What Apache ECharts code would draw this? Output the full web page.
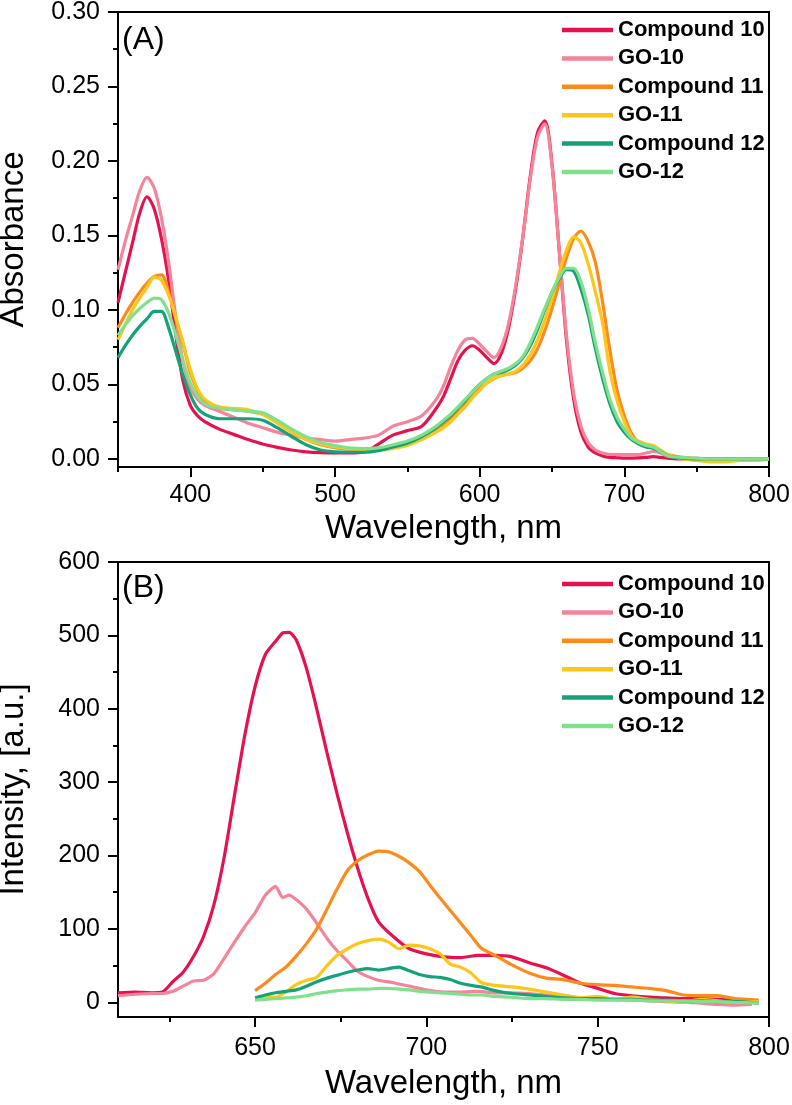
<!DOCTYPE html>
<html><head><meta charset="utf-8">
<script src="https://cdn.jsdelivr.net/npm/echarts@6/dist/echarts.min.js"></script>
<style>html,body{margin:0;padding:0;background:#fff}#c{width:792px;height:1105px}</style>
</head><body><div id="c"></div>
<script>
const seriesNames = ['Compound 10','GO-10','Compound 11','GO-11','Compound 12','GO-12'];
const seriesColors = ['#E5124F','#F4849A','#FF8A1C','#FFC61A','#14A27A','#80E08C'];

// Panel A: absorbance
const wlA = [350,355,360,365,370,375,380,385,390,395,
  400,405,410,420,430,440,450,460,470,480,
  490,500,510,520,530,540,550,560,570,575,
  580,585,590,595,600,605,610,615,620,625,
  630,635,640,645,650,655,660,665,670,675,
  680,685,690,695,700,705,710,715,720,725,
  730,740,750,760,770,780,790,800];
const c10A = [0.105,0.125,0.145,0.165,0.176,0.168,0.148,0.120,0.083,0.052,
  0.036,0.029,0.025,0.020,0.0165,0.013,0.010,0.0078,0.006,0.0048,
  0.0042,0.004,0.004,0.0045,0.010,0.016,0.019,0.022,0.034,0.042,
  0.054,0.066,0.073,0.076,0.073,0.068,0.064,0.071,0.088,0.115,
  0.150,0.190,0.219,0.227,0.198,0.140,0.080,0.040,0.018,0.008,
  0.004,0.002,0.001,0.0008,0.0006,0.0006,0.0007,0.001,0.0015,0.001,
  0.0005,0,0,0,0,0,0,0];
const go10A = [0.127,0.146,0.163,0.180,0.189,0.182,0.162,0.132,0.095,0.065,
  0.048,0.040,0.036,0.032,0.028,0.024,0.021,0.018,0.016,0.014,
  0.013,0.012,0.013,0.014,0.016,0.022,0.025,0.029,0.040,0.049,
  0.062,0.073,0.080,0.081,0.077,0.072,0.068,0.075,0.091,0.117,
  0.150,0.188,0.216,0.225,0.197,0.140,0.083,0.044,0.022,0.011,
  0.006,0.004,0.003,0.003,0.003,0.003,0.003,0.004,0.005,0.004,
  0.002,0.001,0.0005,0,0,0,0,0];
const c11A = [0.088,0.097,0.105,0.112,0.118,0.1225,0.1235,0.112,0.094,0.077,
  0.058,0.046,0.039,0.034,0.033,0.032,0.030,0.025,0.018,0.013,
  0.0095,0.0075,0.0065,0.006,0.0065,0.008,0.0105,0.015,0.020,0.023,
  0.027,0.031,0.036,0.042,0.047,0.051,0.054,0.056,0.057,0.058,
  0.061,0.066,0.074,0.086,0.101,0.118,0.135,0.148,0.153,0.146,
  0.132,0.105,0.073,0.046,0.029,0.017,0.011,0.009,0.008,0.005,
  0.003,0.001,0,-0.001,-0.001,-0.0005,0,0];
const go11A = [0.080,0.090,0.100,0.108,0.115,0.122,0.120,0.110,0.095,0.078,
  0.060,0.047,0.040,0.035,0.034,0.033,0.030,0.024,0.018,0.013,
  0.010,0.008,0.007,0.006,0.006,0.007,0.009,0.013,0.018,0.021,
  0.025,0.030,0.035,0.041,0.046,0.051,0.054,0.056,0.057,0.059,
  0.063,0.070,0.080,0.093,0.108,0.125,0.140,0.149,0.145,0.131,
  0.112,0.091,0.059,0.039,0.025,0.015,0.012,0.010,0.009,0.006,
  0.003,0,-0.001,-0.002,-0.002,-0.001,-0.001,0];
const c12A = [0.068,0.076,0.083,0.089,0.094,0.099,0.099,0.088,0.072,0.056,
  0.043,0.034,0.030,0.027,0.027,0.027,0.026,0.021,0.015,0.0095,
  0.006,0.0048,0.0045,0.0045,0.0055,0.008,0.0105,0.015,0.021,0.025,
  0.029,0.034,0.039,0.045,0.050,0.054,0.057,0.058,0.060,0.063,
  0.068,0.076,0.087,0.100,0.112,0.121,0.127,0.126,0.114,0.097,
  0.074,0.054,0.037,0.025,0.018,0.013,0.010,0.008,0.007,0.005,
  0.002,0.0005,0,0,0,0,0,0];
const go12A = [0.083,0.090,0.096,0.101,0.105,0.108,0.107,0.098,0.083,0.066,
  0.051,0.042,0.037,0.034,0.033,0.032,0.031,0.026,0.020,0.015,
  0.011,0.009,0.0075,0.007,0.0075,0.0095,0.012,0.016,0.022,0.026,
  0.030,0.035,0.040,0.045,0.050,0.054,0.057,0.059,0.061,0.064,
  0.069,0.078,0.089,0.101,0.112,0.122,0.128,0.128,0.119,0.101,
  0.078,0.058,0.040,0.028,0.020,0.014,0.011,0.009,0.008,0.005,
  0.002,0.001,0.0005,0,0,0,0,0];

// Panel B: emission intensity
const wlB1 = [610,615,620,623,626,629,632,635,638,641,
  644,647,650,653,656,658,660,662,665,668,
  671,674,677,680,683,686,690,695,700,705,
  710,715,720,725,730,735,740,745,750,755,
  760,765,770,775,780,785,790,795];
const c10B = [13,14,13,14,28,41,62,90,133,198,
  282,364,430,474,492,503,504,494,455,400,
  340,283,230,182,141,110,91,73,66,62,
  61,64,64,62,54,47,37,26,19,12,
  9,7,6,5,5,4,3,2];
const go10B = [9,11,12,12,15,22,29,30,39,60,
  82,103,122,146,158,143,146,140,127,108,
  87,70,56,42,35,30,27,22,17,14,
  14,15,13,13,12,10,9,6,4,4,
  3,2,1,0,-1,-3,-4,-3];
const wlB2 = [650,653,656,659,662,665,668,671,674,677,
  680,683,686,689,692,695,698,701,704,707,
  710,713,716,720,725,730,735,740,745,750,
  755,760,765,770,775,780,785,790,797];
const c11B = [16,26,38,48,63,80,100,127,155,180,
  193,201,206,205,199,190,178,160,142,125,
  108,91,74,64,51,40,33,31,26,24,
  23,21,19,16,10,9,9,5,3];
const go11B = [6,8,7,14,24,30,34,50,64,73,
  80,84,86,82,73,78,77,73,66,52,
  48,40,27,23,21,18,14,10,6,8,
  4,7,4,2,0,4,2,0,1];
const c12B = [6,10,13,15,17,22,28,33,37,41,
  44,46,44,46,48,43,38,35,34,31,
  26,23,21,16,12,10,8,6,5,5,
  4,4,3,3,2,2,1,1,-1];
const go12B = [3,4,5,6,7,9,12,14,16,17,
  18,18,19,19,18,17,15,14,13,12,
  11,10,10,8,7,5,5,4,4,3,
  3,3,2,2,2,1,1,0,-1];

// Tick values
const xMajorA = [400,500,600,700,800];
const xMinorA = [350,450,550,650,750];
const yMajorA = [0,0.05,0.10,0.15,0.20,0.25,0.30];
const yMinorA = [0.025,0.075,0.125,0.175,0.225,0.275];
const xMajorB = [650,700,750,800];
const xMinorB = [625,675,725,775];
const yMajorB = [0,100,200,300,400,500,600];
const yMinorB = [50,150,250,350,450,550];

const FONT = '"Liberation Sans", Arial, sans-serif';
const black = '#000';

function pairs(xs, ys){ return xs.map((x,i)=>[x, ys[i]]); }

const gridA = {left:118, top:12, width:651, height:455, outerBoundsMode:'none', containLabel:false};
const gridB = {left:118, top:562, width:651, height:455, outerBoundsMode:'none', containLabel:false};

function mainX(gi, min, max, major, labelMargin, nameGap){
  return {gridIndex:gi, type:'value', min:min, max:max,
    axisLine:{show:true, onZero:false, lineStyle:{color:black, width:2}},
    axisTick:{show:true, customValues:major, length:10, lineStyle:{color:black, width:2}},
    axisLabel:{show:true, customValues:major, color:black, fontSize:25, fontFamily:FONT, margin:labelMargin},
    splitLine:{show:false},
    name:'Wavelength, nm', nameLocation:'middle', nameGap:nameGap,
    nameTextStyle:{color:black, fontSize:33, fontFamily:FONT}};
}
function minorX(gi, min, max, minor){
  return {gridIndex:gi, type:'value', min:min, max:max,
    axisLine:{show:false, onZero:false},
    axisTick:{show:true, customValues:minor, length:5, lineStyle:{color:black, width:2}},
    axisLabel:{show:false}, splitLine:{show:false}};
}
function mainY(gi, min, max, major, fmt, name){
  return {gridIndex:gi, type:'value', min:min, max:max,
    axisLine:{show:true, onZero:false, lineStyle:{color:black, width:2}},
    axisTick:{show:true, customValues:major, length:10, lineStyle:{color:black, width:2}},
    axisLabel:{show:true, customValues:major, color:black, fontSize:25, fontFamily:FONT, margin:18, formatter:fmt},
    splitLine:{show:false},
    name:name, nameLocation:'middle', nameGap:88, nameRotate:90,
    nameTextStyle:{color:black, fontSize:33, fontFamily:FONT}};
}
function minorY(gi, min, max, minor){
  return {gridIndex:gi, type:'value', min:min, max:max,
    axisLine:{show:false, onZero:false},
    axisTick:{show:true, customValues:minor, length:5, lineStyle:{color:black, width:2}},
    axisLabel:{show:false}, splitLine:{show:false}};
}

const dataA = [c10A, go10A, c11A, go11A, c12A, go12A];
const dataB = [[wlB1,c10B],[wlB1,go10B],[wlB2,c11B],[wlB2,go11B],[wlB2,c12B],[wlB2,go12B]];

const series = [];
seriesNames.forEach((n,i)=>{
  series.push({type:'line', name:n, xAxisIndex:0, yAxisIndex:0, data:pairs(wlA, dataA[i]),
    symbol:'none', smooth:0.3, lineStyle:{width:3.2, color:seriesColors[i]}, itemStyle:{color:seriesColors[i]}, z:2+i});
});
seriesNames.forEach((n,i)=>{
  series.push({type:'line', name:n, xAxisIndex:2, yAxisIndex:2, data:pairs(dataB[i][0], dataB[i][1]),
    symbol:'none', smooth:0.2, lineStyle:{width:3.2, color:seriesColors[i]}, itemStyle:{color:seriesColors[i]}, z:2+i});
});

function legendAt(top){
  return {data:seriesNames, orient:'vertical', left:562, top:top, padding:0,
    icon:'rect', itemWidth:51, itemHeight:4.5, itemGap:6.4, selectedMode:false,
    textStyle:{color:black, fontSize:22, fontWeight:'bold', fontFamily:FONT, lineHeight:22}};
}

const option = {
  animation:false,
  backgroundColor:'#fff',
  grid:[
    Object.assign({show:true, borderColor:black, borderWidth:2, backgroundColor:'transparent'}, gridA),
    Object.assign({show:false}, gridA),
    Object.assign({show:true, borderColor:black, borderWidth:2, backgroundColor:'transparent'}, gridB),
    Object.assign({show:false}, gridB)
  ],
  xAxis:[
    mainX(0,350,800,xMajorA,16,45),
    minorX(1,350,800,xMinorA),
    mainX(2,610,800,xMajorB,19,50),
    minorX(3,610,800,xMinorB)
  ],
  yAxis:[
    mainY(0,-0.0054,0.30,yMajorA,v=>v.toFixed(2),'Absorbance'),
    minorY(1,-0.0054,0.30,yMinorA),
    mainY(2,-20,600,yMajorB,v=>String(Math.round(v)),'Intensity, [a.u.]'),
    minorY(3,-20,600,yMinorB)
  ],
  legend:[legendAt(19), legendAt(573)],
  graphic:[
    {type:'text', x:122, y:40, style:{text:'(A)', fontSize:32, fontFamily:FONT, fill:black, verticalAlign:'middle'}},
    {type:'text', x:122, y:588, style:{text:'(B)', fontSize:32, fontFamily:FONT, fill:black, verticalAlign:'middle'}}
  ],
  series:series
};

const chart = echarts.init(document.getElementById('c'), null, {renderer:'canvas'});
chart.setOption(option);
</script>
</body></html>
